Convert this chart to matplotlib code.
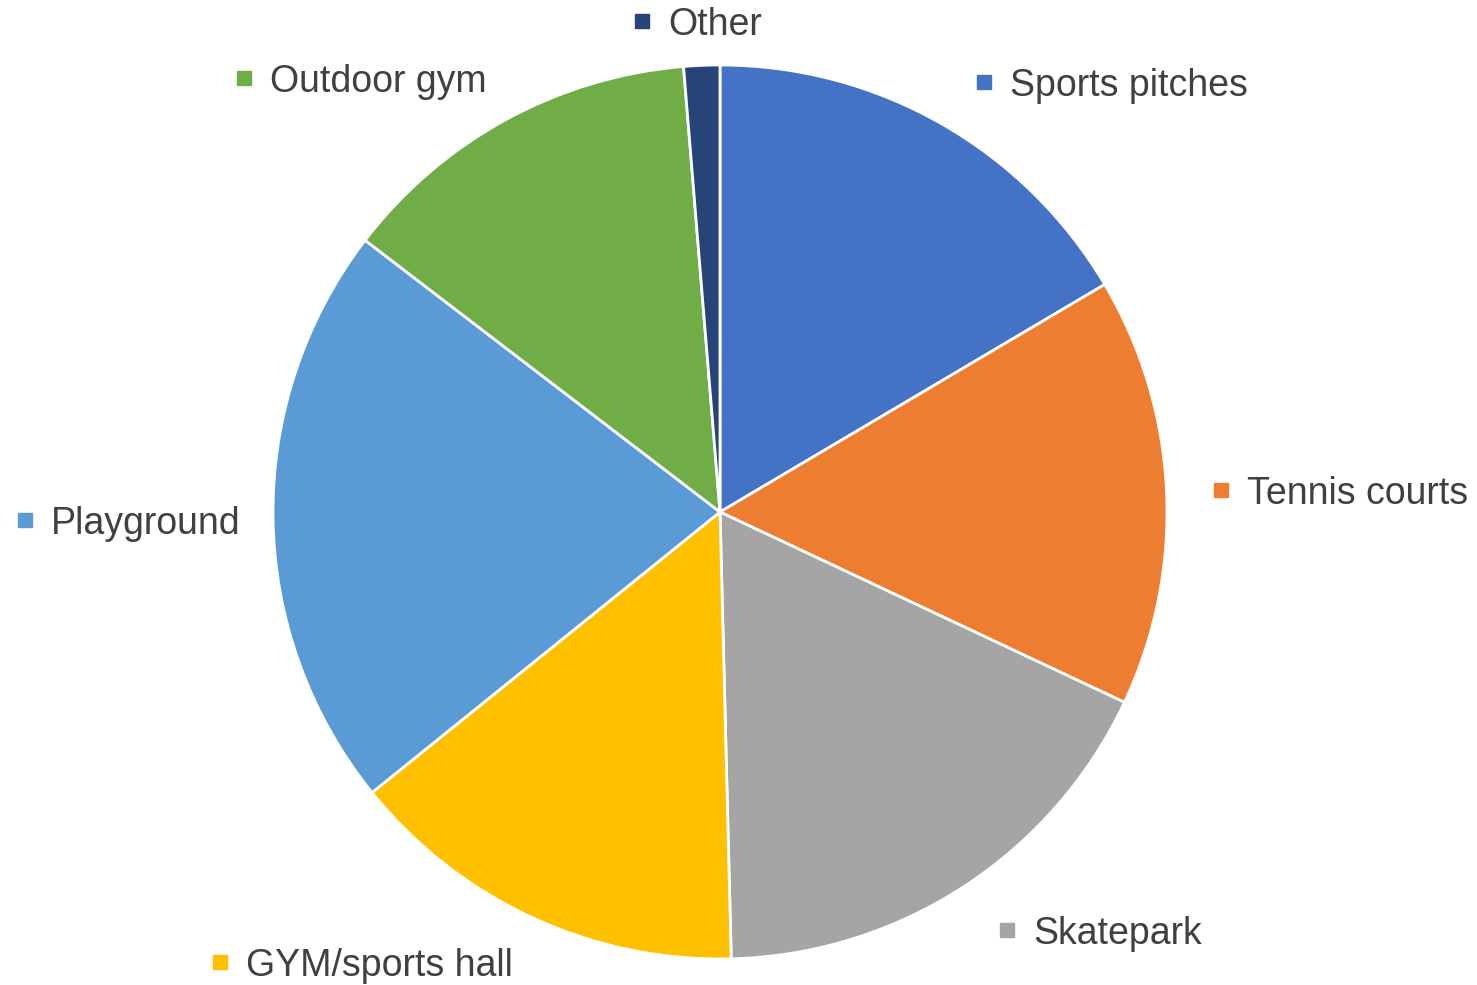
import matplotlib.pyplot as plt

plt.rcParams['font.family'] = ['Liberation Sans', 'DejaVu Sans']

# share of respondents per facility (%)
facilities = ['Sports pitches', 'Tennis courts', 'Skatepark', 'GYM/sports hall',
              'Playground', 'Outdoor gym', 'Other']
shares = [16.5, 15.5, 17.6, 14.6, 21.2, 13.3, 1.3]
colors = ['#4472C4', '#ED7D31', '#A5A5A5', '#FFC000', '#5B9BD5', '#70AD47', '#264478']

# label anchor (left of text, vertical centre) in pixels of the 1477x985 figure
label_pos = [(1010, 86), (1247, 494), (1033, 934), (246, 966),
             (51, 524), (270, 82), (668, 25)]

W, H = 1477, 985
fig = plt.figure(figsize=(W / 100, H / 100), dpi=100)

cx, cy, r = 720, 512, 447
ax = fig.add_axes([(cx - r) / W, (H - cy - r) / H, 2 * r / W, 2 * r / H])
ax.pie(shares, colors=colors, startangle=90, counterclock=False,
       wedgeprops=dict(edgecolor='white', linewidth=2))
ax.set_xlim(-1, 1)
ax.set_ylim(-1, 1)
ax.set_aspect('equal')

for name, col, (px, py) in zip(facilities, colors, label_pos):
    fx, fy = px / W, 1 - py / H
    fig.text(fx, fy, name, fontsize=27, color='#404040', va='center', ha='left')
    fig.lines.append(plt.Line2D([(px - 26) / W], [fy + 0.004], marker='s',
                                markersize=9.5, color=col, transform=fig.transFigure))

fig.savefig('out.png', dpi=100)
